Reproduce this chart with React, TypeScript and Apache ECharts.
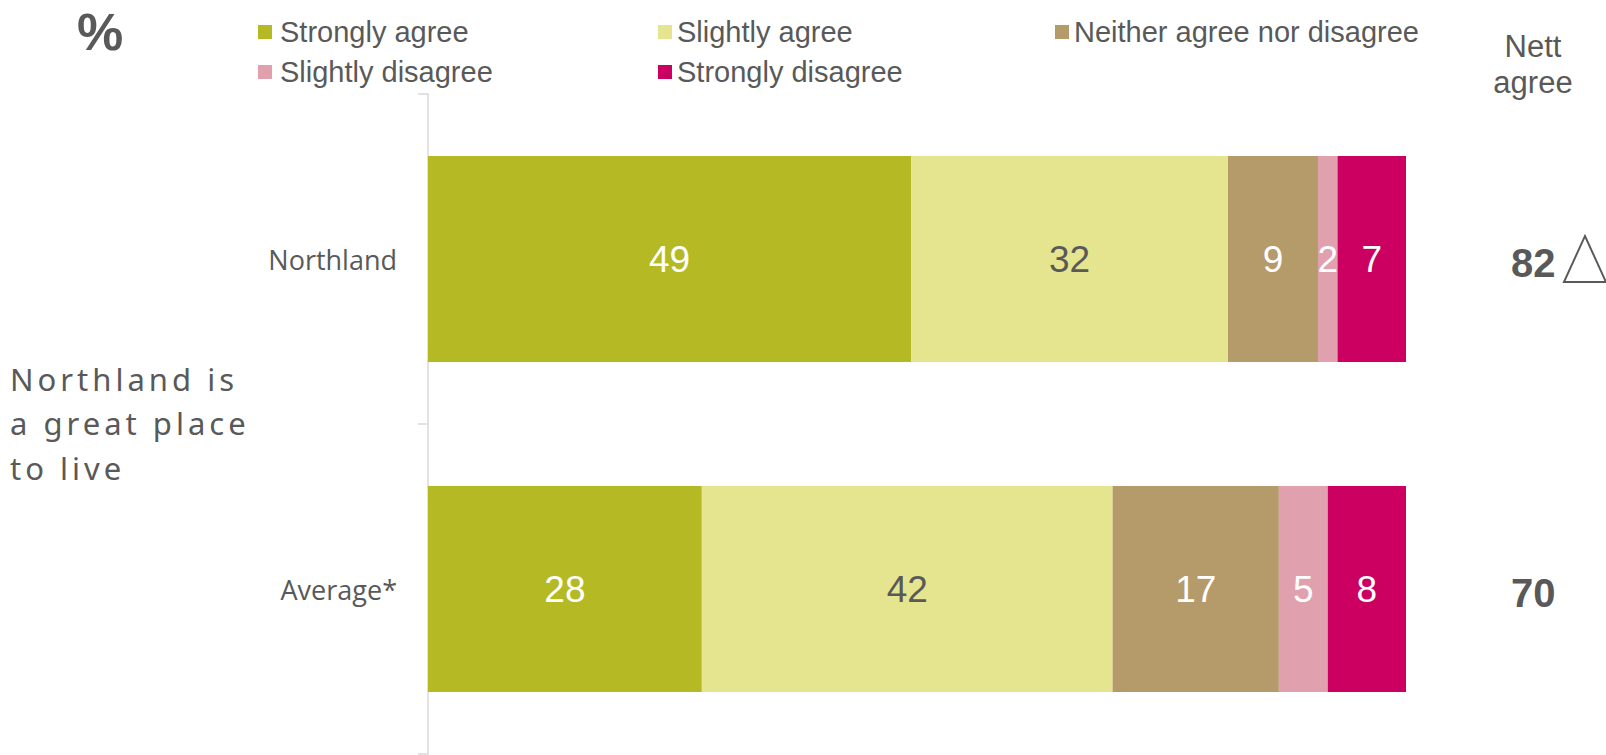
import React, { useEffect, useRef } from "react";
import * as echarts from "echarts";

// ---- data ----
const categories = ["Northland", "Average*"];
const seriesNames = [
  "Strongly agree",
  "Slightly agree",
  "Neither agree nor disagree",
  "Slightly disagree",
  "Strongly disagree",
];
const stronglyAgree = [49.4, 28];
const slightlyAgree = [32.4, 42];
const neitherAgree = [9.2, 17];
const slightlyDisagree = [2.0, 5];
const stronglyDisagree = [7.0, 8];
const nettAgree = [82, 70];
const significantlyHigher = [true, false];
const statementLines = ["Northland is", "a great place", "to live"];

// ---- style ----
const COLORS = ["#B5BA24", "#E5E58F", "#B59A6A", "#E1A0AE", "#CC0060"];
const LABEL_COLORS = ["#FFFFFF", "#595959", "#FFFFFF", "#FFFFFF", "#FFFFFF"];
const GREY = "#595959";
const ARIAL = "'Liberation Sans', Arial, sans-serif";
const NETT_X = 113; // value-axis position of the nett column (beyond 100)
const TRI_X = 118.3;

const LEGEND_POS = [
  { left: 258, top: 17.5, pad: 3 },
  { left: 658, top: 17.5, pad: 0 },
  { left: 1055, top: 17.5, pad: 0 },
  { left: 258, top: 57.5, pad: 3 },
  { left: 658, top: 57.5, pad: 0 },
];

export default function App() {
  const ref = useRef<HTMLDivElement>(null);

  useEffect(() => {
    document.body.style.margin = "0";
    if (!ref.current) return;
    const chart = echarts.init(ref.current, undefined, { renderer: "svg" });
    const values = [stronglyAgree, slightlyAgree, neitherAgree, slightlyDisagree, stronglyDisagree];

    const barSeries = values.map((v, i) => ({
      name: seriesNames[i],
      type: "bar",
      stack: "total",
      barWidth: 206,
      data: v,
      itemStyle: { color: COLORS[i] },
      emphasis: { disabled: true },
      label: {
        show: true,
        position: "inside",
        formatter: (p: any) => String(Math.round(p.value)),
        color: LABEL_COLORS[i],
        fontSize: 37,
        fontFamily: ARIAL,
        textBorderWidth: 0,
      },
    }));

    const option: any = {
      animation: false,
      legend: seriesNames.map((n, i) => ({
        data: [{ name: n, icon: "rect" }],
        left: LEGEND_POS[i].left,
        top: LEGEND_POS[i].top,
        padding: 0,
        itemWidth: 14,
        itemHeight: 14,
        selectedMode: false,
        textStyle: {
          fontSize: 29,
          color: GREY,
          fontFamily: ARIAL,
          padding: [0, 0, 0, LEGEND_POS[i].pad],
        },
      })),
      grid: { left: 428, right: 200, top: 94, bottom: 1, containLabel: false },
      xAxis: { type: "value", min: 0, max: 100, show: false },
      yAxis: {
        type: "category",
        data: categories,
        inverse: true,
        axisLine: { show: true, lineStyle: { color: "#D9D9D9", width: 1.5 } },
        axisTick: { show: true, length: 10, lineStyle: { color: "#D9D9D9", width: 1.5 } },
        axisLabel: {
          margin: 31,
          fontSize: 27,
          color: GREY,
          fontFamily: "'Open Sans', sans-serif",
        },
        splitLine: { show: false },
      },
      series: [
        ...barSeries,
        {
          name: "Nett agree",
          type: "scatter",
          clip: false,
          symbolSize: 1,
          itemStyle: { color: "rgba(0,0,0,0)", opacity: 1 },
          emphasis: { disabled: true },
          data: categories.map((c, i) => [NETT_X, c, nettAgree[i]]),
          label: {
            show: true,
            position: "inside",
            formatter: (p: any) => String(p.value[2]),
            fontSize: 40,
            fontWeight: "bold",
            color: GREY,
            fontFamily: ARIAL,
            offset: [0, 4],
          },
        },
        {
          name: "Significantly higher",
          type: "scatter",
          clip: false,
          symbol: "triangle",
          symbolSize: [42, 46],
          itemStyle: { color: "rgba(0,0,0,0)", borderColor: GREY, borderWidth: 2, opacity: 1 },
          emphasis: { disabled: true },
          data: categories
            .map((c, i) => (significantlyHigher[i] ? [TRI_X, c] : null))
            .filter((d) => d !== null),
        },
      ],
      graphic: [
        {
          type: "text",
          x: 100,
          y: 32,
          style: {
            text: "%",
            fontSize: 52,
            fontWeight: "bold",
            fontFamily: ARIAL,
            fill: GREY,
            textAlign: "center",
            textVerticalAlign: "middle",
          },
        },
        {
          type: "text",
          x: 1533,
          y: 64,
          style: {
            text: "Nett\nagree",
            fontSize: 31,
            lineHeight: 36,
            fontFamily: ARIAL,
            fill: GREY,
            textAlign: "center",
            textVerticalAlign: "middle",
          },
        },
        {
          type: "text",
          x: 10,
          y: 423,
          style: {
            text: statementLines.join("\n"),
            fontSize: 31,
            lineHeight: 44.5,
            fontFamily: "'Noto Sans', sans-serif",
            fill: GREY,
            textAlign: "left",
            textVerticalAlign: "middle",
          },
        },
      ],
    };
    chart.setOption(option);
    return () => chart.dispose();
  }, []);

  return (
    <>
      <style>{`text[style*="Noto Sans"]{letter-spacing:4px;}`}</style>
      <div
        ref={ref}
        style={{ position: "absolute", left: 0, top: 0, width: 1606, height: 755 }}
      />
    </>
  );
}
